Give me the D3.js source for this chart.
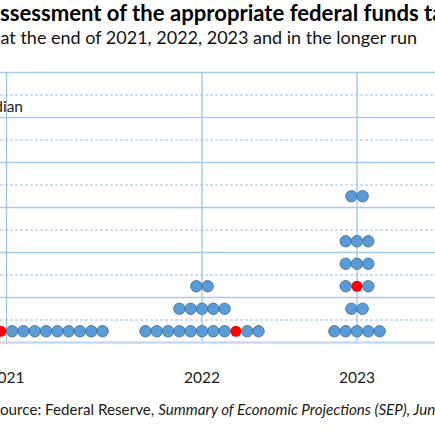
<!DOCTYPE html>
<html>
<head>
<meta charset="utf-8">
<script src="https://cdn.jsdelivr.net/npm/d3@7"></script>
<style>
  body { margin: 0; background: #fff; }
  svg { display: block; font-family: Lato, "Open Sans", sans-serif; }
</style>
</head>
<body>
<svg id="chart" width="435" height="435"></svg>
<script>
const years = ["2021", "2022", "2023"];
const rateLevels = [0.125, 0.375, 0.625, 0.875, 1.125, 1.375, 1.625];
const counts2021 = [18, 0, 0, 0, 0, 0, 0];
const counts2022 = [11, 5, 2, 0, 0, 0, 0];
const counts2023 = [5, 2, 3, 3, 3, 0, 2];
const medianRate = [0.125, 0.125, 0.625];
const medianSlot = [8, 8, 1];
const solidTicks = [0, 0.5, 1, 1.5, 2, 2.5, 3];
const dashedTicks = [0.25, 0.75, 1.25, 1.75, 2.25, 2.75];

const titleText = "FOMC participants' assessment of the appropriate federal funds target rate";
const subtitleText = "Midpoint of target range at the end of 2021, 2022, 2023 and in the longer run";
const sourceText = "Source: Federal Reserve, ";
const sourceItalic = "Summary of Economic Projections (SEP), June 2021";

const countsByYear = [counts2021, counts2022, counts2023];

const svg = d3.select("#chart");
svg.append("rect").attr("width", 435).attr("height", 435).attr("fill", "#fff");

const x = d3.scaleOrdinal()
  .domain(years)
  .range([6.5, 202, 357]);

const y = d3.scaleLinear()
  .domain([0, 3])
  .range([342.5, 72.5]);

const plotLeft = -140;
const plotRight = 600;
const dotGap = 11.3;

// dots, one per participant
const dots = [];
years.forEach((year, j) => {
  countsByYear[j].forEach((n, k) => {
    for (let i = 0; i < n; i++) {
      dots.push({
        year: year,
        rate: rateLevels[k],
        offset: (i - (n - 1) / 2) * dotGap,
        median: rateLevels[k] === medianRate[j] && i === medianSlot[j]
      });
    }
  });
});

// grid
const grid = svg.append("g");

grid.selectAll(".dashed")
  .data(dashedTicks)
  .join("line")
  .attr("x1", plotLeft).attr("x2", plotRight)
  .attr("y1", d => y(d)).attr("y2", d => y(d))
  .attr("stroke", "#9DC3E6")
  .attr("stroke-width", 1.2)
  .attr("stroke-dasharray", "3,2");

grid.selectAll(".solid")
  .data(solidTicks.filter(d => d > 0))
  .join("line")
  .attr("x1", plotLeft).attr("x2", plotRight)
  .attr("y1", d => y(d)).attr("y2", d => y(d))
  .attr("stroke", "#A9CBEA")
  .attr("stroke-width", 1.4);

grid.selectAll(".vert")
  .data(years)
  .join("line")
  .attr("x1", d => x(d)).attr("x2", d => x(d))
  .attr("y1", y(3)).attr("y2", y(0))
  .attr("stroke", "#9DC3E6")
  .attr("stroke-width", 1.3);

// x axis line
grid.append("line")
  .attr("x1", plotLeft).attr("x2", plotRight)
  .attr("y1", y(0)).attr("y2", y(0))
  .attr("stroke", "#C5DCF1")
  .attr("stroke-width", 2.6);

// year labels
svg.selectAll(".year")
  .data(years)
  .join("text")
  .attr("x", d => x(d))
  .attr("y", 383)
  .attr("text-anchor", "middle")
  .attr("font-size", "15.5px")
  .attr("fill", "#1a1a1a")
  .text(d => d);

// dots
svg.append("g")
  .selectAll("circle")
  .data(dots)
  .join("circle")
  .attr("cx", d => x(d.year) + d.offset)
  .attr("cy", d => y(d.rate))
  .attr("r", d => d.median ? 5.5 : 5.7)
  .attr("fill", d => d.median ? "#FF0000" : "#5B9BD5")
  .attr("stroke", d => d.median ? "none" : "#41719C")
  .attr("stroke-width", 0.9);

// legend
const legendText = svg.append("text")
  .attr("x", 23)
  .attr("y", 112)
  .attr("text-anchor", "end")
  .attr("font-size", "15.5px")
  .attr("fill", "#1a1a1a")
  .text("Median");
const legendWidth = legendText.node().getComputedTextLength();
svg.append("circle")
  .attr("cx", 23 - legendWidth - 12)
  .attr("cy", 107)
  .attr("r", 5.5)
  .attr("fill", "#FF0000");

// title, subtitle and source, placed so the visible part starts at the left edge
function placeFrom(textSel, prefixLen, targetX) {
  const shift = prefixLen > 0 ? textSel.node().getSubStringLength(0, prefixLen) : 0;
  textSel.attr("x", targetX - shift);
}

const title = svg.append("text")
  .attr("y", 20.5)
  .attr("font-size", "22.1px")
  .attr("font-weight", "bold")
  .attr("fill", "#000")
  .text(titleText);
placeFrom(title, titleText.indexOf("ssessment"), 0);

const subtitle = svg.append("text")
  .attr("y", 44)
  .attr("font-size", "18px")
  .attr("fill", "#111")
  .text(subtitleText);
placeFrom(subtitle, subtitleText.indexOf("at the end"), 0.5);

const source = svg.append("text")
  .attr("y", 415)
  .attr("font-size", "15.2px")
  .attr("fill", "#1a1a1a");
source.append("tspan").text(sourceText);
source.append("tspan").attr("font-style", "italic").text(sourceItalic);
placeFrom(source, 1, 0);
</script>
</body>
</html>
